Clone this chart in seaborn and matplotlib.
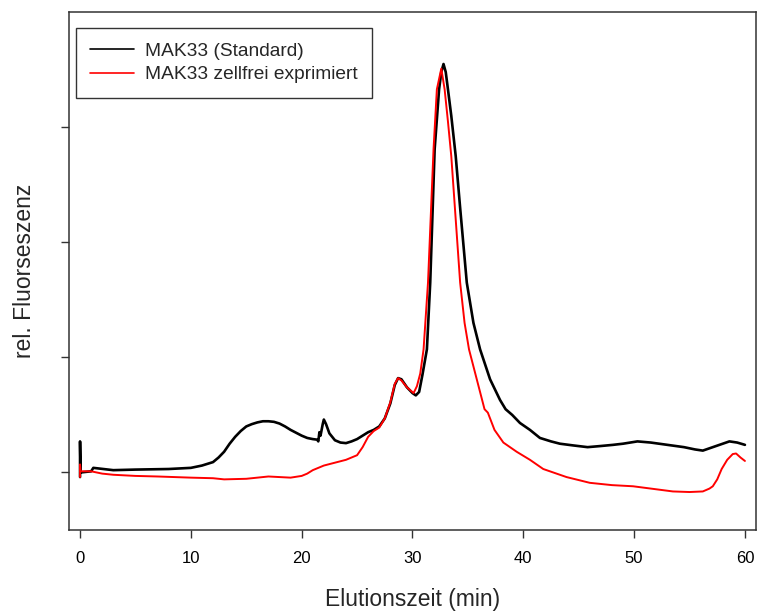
import matplotlib
matplotlib.use("Agg")
import matplotlib.pyplot as plt
import pandas as pd
import seaborn as sns

# Elution profiles (time in min, fluorescence in tick units)
std_time = [0, 0, 0.05, 1.0, 1.2, 3, 5, 8, 10, 11, 12, 12.5, 13, 13.5, 14, 14.5,
            15, 15.5, 16, 16.5, 17, 17.5, 18, 18.5, 19, 19.5, 20, 20.5, 21, 21.4,
            21.5, 21.6, 21.7, 21.9, 22.0, 22.2, 22.5, 23, 23.5, 24, 24.5, 25, 25.5,
            26, 26.5, 27, 27.5, 28, 28.4, 28.7, 29.0, 29.5, 30.0, 30.3, 30.6, 30.9,
            31.3, 31.6, 32.0, 32.4, 32.6, 32.8, 33.0, 33.2, 33.5, 33.9, 34.3, 34.9,
            35.5, 36.1, 37.0, 37.9, 38.4, 39.0, 39.7, 40.6, 41.5, 42.5, 43.3, 44.5,
            45.8, 47, 48.1, 49, 50.3, 51.5, 53, 54.5, 55.5, 56.2, 57.1, 58, 58.6,
            59.3, 60]
std_signal = [-0.04, 0.27, 0.0, 0.01, 0.04, 0.02, 0.025, 0.03, 0.04, 0.06, 0.09, 0.13,
              0.18, 0.25, 0.31, 0.36, 0.40, 0.42, 0.435, 0.445, 0.445, 0.44, 0.425,
              0.40, 0.37, 0.345, 0.32, 0.30, 0.29, 0.285, 0.27, 0.35, 0.32, 0.42,
              0.46, 0.42, 0.34, 0.28, 0.26, 0.255, 0.27, 0.29, 0.32, 0.35, 0.37, 0.40,
              0.47, 0.60, 0.76, 0.82, 0.81, 0.74, 0.69, 0.67, 0.70, 0.85, 1.07, 1.65,
              2.81, 3.33, 3.48, 3.55, 3.48, 3.33, 3.10, 2.75, 2.30, 1.65, 1.30, 1.07,
              0.81, 0.63, 0.55, 0.50, 0.43, 0.37, 0.30, 0.27, 0.25, 0.235, 0.22, 0.23,
              0.24, 0.25, 0.27, 0.26, 0.24, 0.22, 0.20, 0.19, 0.22, 0.25, 0.27, 0.26,
              0.24]

cf_time = [0, 0, 0.05, 1, 2, 3, 5, 7, 10, 12, 13, 15, 16, 17, 18, 19, 20, 20.5, 21,
           21.5, 22, 23, 24, 25, 25.5, 26, 26.5, 27, 27.5, 28, 28.4, 28.7, 29.0, 29.5,
           30.1, 30.4, 30.7, 31.0, 31.4, 31.9, 32.2, 32.6, 32.9, 33.2, 33.5, 33.9,
           34.3, 34.7, 35.1, 35.8, 36.5, 36.8, 37.4, 38.2, 39.4, 40.6, 41.8, 43.9, 46,
           48, 49.9, 51.5, 53.5, 55, 56.2, 56.8, 57.1, 57.5, 57.9, 58.4, 58.9, 59.2,
           59.6, 60]
cf_signal = [-0.04, 0.07, 0.01, 0.01, -0.01, -0.02, -0.03, -0.035, -0.045, -0.05,
             -0.06, -0.055, -0.045, -0.035, -0.04, -0.045, -0.03, -0.01, 0.02, 0.04,
             0.06, 0.085, 0.11, 0.15, 0.22, 0.31, 0.36, 0.39, 0.47, 0.61, 0.77, 0.82,
             0.80, 0.74, 0.69, 0.75, 0.86, 1.07, 1.65, 2.81, 3.33, 3.51, 3.33, 3.05,
             2.75, 2.20, 1.65, 1.30, 1.07, 0.81, 0.55, 0.52, 0.37, 0.26, 0.18, 0.11,
             0.03, -0.04, -0.09, -0.11, -0.12, -0.14, -0.165, -0.17, -0.165, -0.14,
             -0.12, -0.06, 0.03, 0.11, 0.16, 0.165, 0.13, 0.10]

labels = ["MAK33 (Standard)", "MAK33 zellfrei exprimiert"]
x_ticks = [0, 10, 20, 30, 40, 50, 60]
y_ticks = [0, 1, 2, 3]

sns.set_style("ticks")
plt.rcParams["font.family"] = ["Liberation Sans", "DejaVu Sans"]

fig = plt.figure(figsize=(7.57, 6.12), dpi=100)
ax = fig.add_axes([0.0911, 0.134, 0.9076, 0.846])

sns.lineplot(x=std_time, y=std_signal, ax=ax, color="black", linewidth=1.9,
             sort=False, estimator=None, label=labels[0])
sns.lineplot(x=cf_time, y=cf_signal, ax=ax, color="red", linewidth=1.4,
             sort=False, estimator=None, label=labels[1])

ax.set_xlim(-1, 61)
ax.set_ylim(-0.5, 4)
ax.set_xticks(x_ticks)
ax.set_yticks(y_ticks)
ax.set_yticklabels([])
ax.tick_params(axis="both", direction="out", length=6, width=1, colors="#333333",
               labelcolor="black", labelsize=12, pad=9)
for side in ["top", "right", "bottom", "left"]:
    ax.spines[side].set_visible(True)
    ax.spines[side].set_color("#333333")
    ax.spines[side].set_linewidth(1.1)

ax.set_xlabel("Elutionszeit (min)", fontsize=16.5, labelpad=16)
ax.set_ylabel("rel. Fluorseszenz", fontsize=16.5)
ax.yaxis.set_label_coords(-0.048, 0.5)

leg = ax.legend(loc="upper left", bbox_to_anchor=(0.010, 0.969), borderaxespad=0,
                fontsize=13.8, frameon=True, fancybox=False, shadow=False,
                handlelength=2.3, handletextpad=0.55, labelspacing=0.3,
                borderpad=0.75)
leg.get_frame().set_edgecolor("#333333")
leg.get_frame().set_linewidth(1.0)
leg.get_frame().set_alpha(1)
for line in leg.get_lines():
    line.set_linewidth(1.2)

fig.savefig("out.png", dpi=100)
